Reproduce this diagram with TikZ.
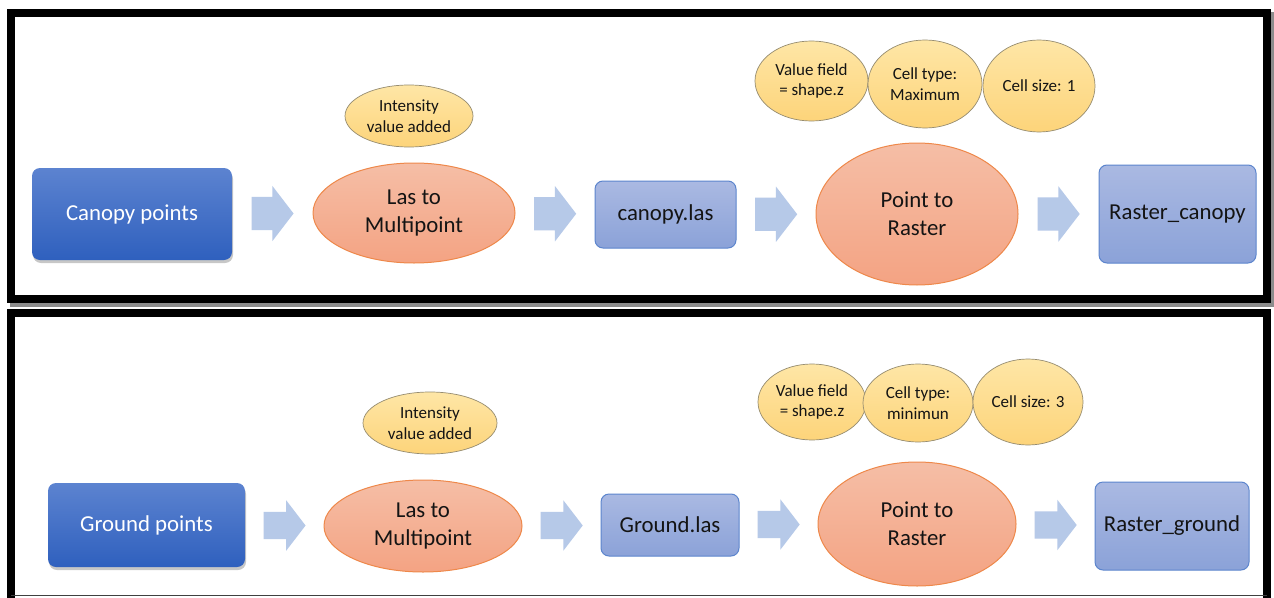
\documentclass[tikz,border=0pt]{standalone}
\usepackage{fontspec}
\setmainfont{Carlito}
\usetikzlibrary{shapes.geometric,shapes.arrows,shadows,calc}

\definecolor{srcTop}{RGB}{92,131,208}
\definecolor{srcBot}{RGB}{47,96,190}
\definecolor{fileTop}{RGB}{170,185,226}
\definecolor{fileBot}{RGB}{139,162,216}
\definecolor{fileLine}{RGB}{92,133,205}
\definecolor{toolTop}{RGB}{245,190,166}
\definecolor{toolBot}{RGB}{244,163,131}
\definecolor{toolLine}{RGB}{238,136,74}
\definecolor{noteTop}{RGB}{254,230,166}
\definecolor{noteBot}{RGB}{253,212,122}
\definecolor{noteLine}{RGB}{150,140,112}
\definecolor{flowBlue}{RGB}{182,201,232}
\definecolor{inkText}{RGB}{20,20,20}

\newcommand\mainsize{\fontsize{22.8}{28}\selectfont}
\newcommand\notesize{\fontsize{17}{20.5}\selectfont}

\begin{document}
\begin{tikzpicture}[x=1pt,y=-1pt,
  srcbox/.style={rectangle, rounded corners=8pt, top color=srcTop, bottom color=srcBot,
    draw=none, text=white, font=\mainsize, inner sep=0pt,
    drop shadow={shadow xshift=1pt, shadow yshift=-3pt, opacity=.22, fill=black}},
  filebox/.style={rectangle, rounded corners=8pt, top color=fileTop, bottom color=fileBot,
    draw=fileLine, line width=1pt, text=inkText, font=\mainsize, inner sep=0pt},
  tool/.style={ellipse, top color=toolTop, bottom color=toolBot, draw=toolLine,
    line width=1pt, text=inkText, font=\mainsize, align=center, inner sep=0pt},
  note/.style={ellipse, top color=noteTop, bottom color=noteBot, draw=noteLine,
    line width=.7pt, text=inkText, font=\notesize, align=center, inner sep=0pt},
  flowarrow/.style={single arrow, fill=flowBlue, draw=none, anchor=tail,
    inner xsep=0pt, inner ysep=16.5pt, minimum height=42pt,
    single arrow head extend=11pt, single arrow tip angle=105},
  flowarrowsm/.style={flowarrow, inner ysep=13.5pt, single arrow head extend=11.5pt},
  frameline/.style={line width=8pt, draw=black},
  frameshade/.style={fill=black!45}
]
\useasboundingbox (0,0) rectangle (1274,597);
\fill[white] (0,0) rectangle (1274,597);

% --- frames -------------------------------------------------------------
\fill[frameshade] (10,303) rectangle (1274,307);
\fill[frameshade] (1271,12) rectangle (1274,307);
\draw[frameline] (11,13) rectangle (1267,299);
\draw[frameline] (11,620) -- (11,313) -- (1267,313) -- (1267,620);
\draw[black!75, line width=1.5pt] (11,595.5) -- (1267,595.5);

% --- canopy workflow ----------------------------------------------------
\node[srcbox, minimum width=200pt, minimum height=92pt] (canopypts) at (132,214) {Canopy points};
\node[tool, minimum width=202pt, minimum height=100pt] (lasA) at (414,213) {Las to\\Multipoint};
\node[note, minimum width=128pt, minimum height=62pt] (intA) at (409,116) {Intensity\\value added};
\node[filebox, minimum width=141pt, minimum height=67pt] (canopylas) at (665.5,214.5) {canopy.las};
\node[tool, minimum width=202pt, minimum height=142pt] (ptrA) at (917,214) {Point to\\Raster};
\node[note, minimum width=113pt, minimum height=80pt] (vfA) at (811.5,81) {Value field\\= shape.z};
\node[note, minimum width=114pt, minimum height=88pt] (ctA) at (925,84) {Cell type:\\Maximum};
\node[note, minimum width=112pt, minimum height=92pt] (csA) at (1039,86) {Cell size: 1};
\node[filebox, minimum width=157pt, minimum height=98pt] (rasA) at (1177.5,214) {Raster\_canopy};

% block arrows: tail sits 21pt before the midpoint of each gap
\node[flowarrow] (fa1) at ($(canopypts.east)!.5!(lasA.west)+(-21,0)$) {};
\node[flowarrow] (fa2) at ($(lasA.east)!.5!(canopylas.west)+(-21,0)$) {};
\node[flowarrow] (fa3) at ($(canopylas.east)!.5!(ptrA.west)+(-21,0)$) {};
\node[flowarrow] (fa4) at ($(ptrA.east)!.5!(rasA.west)+(-21,0)$) {};

% --- ground workflow ----------------------------------------------------
\node[srcbox, minimum width=197pt, minimum height=84pt] (groundpts) at (146.5,525) {Ground points};
\node[tool, minimum width=198pt, minimum height=92pt] (lasB) at (423,526) {Las to\\Multipoint};
\node[note, minimum width=134pt, minimum height=62pt] (intB) at (430,423) {Intensity\\value added};
\node[filebox, minimum width=138pt, minimum height=62pt] (groundlas) at (670,525) {Ground.las};
\node[tool, minimum width=198pt, minimum height=124pt] (ptrB) at (917,524) {Point to\\Raster};
\node[note, minimum width=108pt, minimum height=76pt] (vfB) at (812,402) {Value field\\= shape.z};
\node[note, minimum width=110pt, minimum height=78pt] (ctB) at (918,403) {Cell type:\\minimun};
\node[note, minimum width=110pt, minimum height=86pt] (csB) at (1028,402) {Cell size: 3};
\node[filebox, minimum width=154pt, minimum height=88pt] (rasB) at (1172,526) {Raster\_ground};

\node[flowarrowsm] (fb1) at ($(groundpts.east)!.5!(lasB.west)+(-21,0)$) {};
\node[flowarrowsm] (fb2) at ($(lasB.east)!.5!(groundlas.west)+(-21,0)$) {};
\node[flowarrowsm] (fb3) at ($(groundlas.east)!.5!(ptrB.west)+(-21,0)$) {};
\node[flowarrowsm] (fb4) at ($(ptrB.east)!.5!(rasB.west)+(-21,0)$) {};
\end{tikzpicture}
\end{document}
